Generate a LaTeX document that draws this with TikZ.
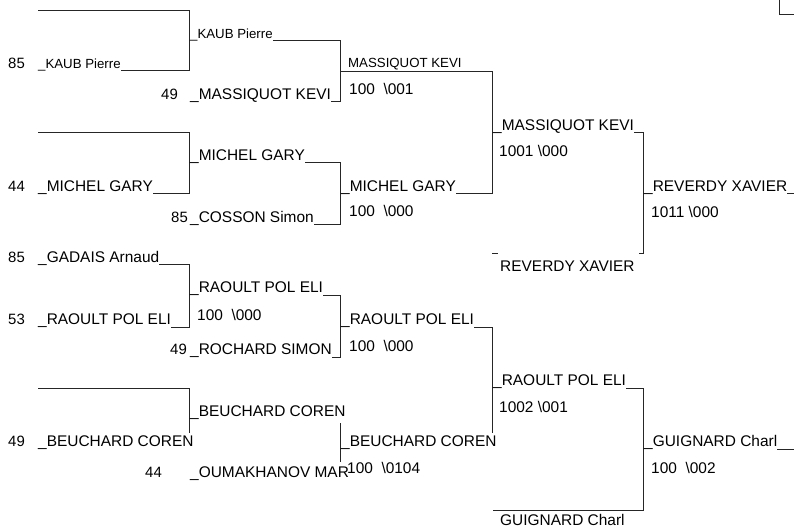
\documentclass[tikz,border=0pt]{standalone}
\usepackage{fontspec}
\setmainfont{Liberation Sans}
\begin{document}
\begin{tikzpicture}[x=1bp,y=-1bp,
  nm/.style={anchor=base west, inner sep=0pt, font=\fontsize{15.5}{18}\selectfont},
  sm/.style={anchor=base west, inner sep=0pt, font=\fontsize{13.3}{16}\selectfont},
  sd/.style={anchor=base west, inner sep=0pt, font=\fontsize{15}{18}\selectfont},
  ln/.style={line width=1bp, black!85}]
\useasboundingbox (0,0) rectangle (794,528);
% ---------- column A ----------
\node[sd] (sa1) at (8,68.4) {85};
\node[sm] (a1) at (38,68.8) {\_KAUB Pierre};
\draw[ln] (38,11) -- (189,11) |- ([yshift=-2.2bp]a1.base east);
\node[sd] (sa2) at (8,191.4) {44};
\node[nm] (a2) at (38,191.4) {\_MICHEL GARY};
\draw[ln] (38,133) -- (189,133) |- ([yshift=-2.6bp]a2.base east);
\node[sd] (sa3) at (8,262.4) {85};
\node[nm] (a3) at (38,262.4) {\_GADAIS Arnaud};
\node[sd] (sa4) at (8,324.4) {53};
\node[nm] (a4) at (38,324.4) {\_RAOULT POL ELI};
\draw[ln] ([yshift=-2.6bp]a3.base east) -| (189,327) -- ([yshift=-2.6bp]a4.base east);
\node[sd] (sa5) at (8,446.4) {49};
\node[nm] (a5) at (38,446.4) {\_BEUCHARD COREN};
\draw[ln] (38,388) -- (189,388) -- (189,433);
% ---------- column B ----------
\node[sm] (b1) at (190,38.8) {\_KAUB Pierre};
\node[sd] (sb2) at (161,99.4) {49};
\node[nm] (b2) at (190,99.4) {\_MASSIQUOT KEVI};
\draw[ln] ([yshift=-2.2bp]b1.base east) -| (340,102) -- ([yshift=-2.6bp]b2.base east);
\node[nm] (b3) at (190,160.4) {\_MICHEL GARY};
\node[sd] (sb4) at (171,222.4) {85};
\node[nm] (b4) at (190,222.4) {\_COSSON Simon};
\draw[ln] ([yshift=-2.6bp]b3.base east) -| (340,225) -- ([yshift=-2.6bp]b4.base east);
\node[nm] (b5) at (190,292.4) {\_RAOULT POL ELI};
\node[nm] (rb5) at (197,320) {100\ \ \textbackslash 000};
\node[sd] (sb6) at (170,354.4) {49};
\node[nm] (b6) at (190,354.4) {\_ROCHARD SIMON};
\draw[ln] ([yshift=-2.6bp]b5.base east) -| (340,357) -- ([yshift=-2.6bp]b6.base east);
\node[nm] (b7) at (190,416.4) {\_BEUCHARD COREN};
\node[sd] (sb8) at (145,477.4) {44};
\node[nm] (b8) at (190,477.4) {\_OUMAKHANOV MAR};
\draw[ln] (340,423) -- (340,462);
% ---------- column C ----------
\node[sm] (c1) at (348,68) {MASSIQUOT KEVI};
\node[nm] (rc1) at (349,95) {100\ \ \textbackslash 001};
\node[nm] (c2) at (341,191.4) {\_MICHEL GARY};
\node[nm] (rc2) at (349,217) {100\ \ \textbackslash 000};
\draw[ln] (340,72) -| (492,194) -- ([yshift=-2.6bp]c2.base east);
\node[nm] (c3) at (341,324.4) {\_RAOULT POL ELI};
\node[nm] (rc3) at (349,351) {100\ \ \textbackslash 000};
\draw[ln] ([yshift=-2.6bp]c3.base east) -| (492,433);
\node[nm] (c4) at (341,446.4) {\_BEUCHARD COREN};
\node[nm] (rc4) at (347,473) {100\ \ \textbackslash 0104};
% ---------- column D ----------
\node[nm] (d1) at (493,130.4) {\_MASSIQUOT KEVI};
\node[nm] (rd1) at (499,157) {1001 \textbackslash 000};
\node[nm] (d2) at (500,272) {REVERDY XAVIER};
\draw[ln] ([yshift=-2.6bp]d1.base east) -| (643,254) -- (639,254);
\draw[ln] (492,254) -- (498,254);
\node[nm] (d3) at (493,385.4) {\_RAOULT POL ELI};
\node[nm] (rd3) at (499,412) {1002 \textbackslash 001};
\node[nm] (d4) at (500,525) {GUIGNARD Charl};
\draw[ln] ([yshift=-2.6bp]d3.base east) -| (643,510) -- (493,510);
% ---------- column E ----------
\node[nm] (e1) at (644,191.4) {\_REVERDY XAVIER};
\node[nm] (re1) at (651,218) {1011 \textbackslash 000};
\draw[ln] ([yshift=-2.6bp]e1.base east) -- (794,194);
\node[nm] (e2) at (644,446.4) {\_GUIGNARD Charl};
\node[nm] (re2) at (651,473) {100\ \ \textbackslash 002};
\draw[ln] ([yshift=-2.6bp]e2.base east) -- (794,449);
% ---------- top right corner ----------
\draw[ln] (779,0) |- (794,15);
\end{tikzpicture}
\end{document}
